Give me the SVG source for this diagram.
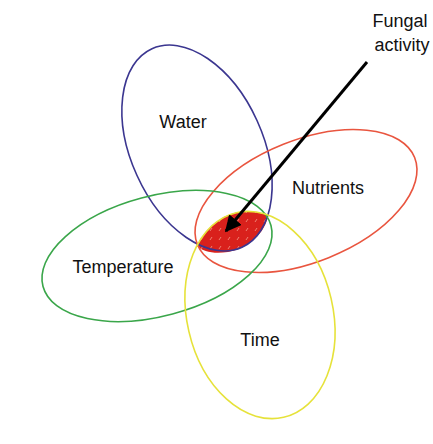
<svg xmlns="http://www.w3.org/2000/svg" width="433" height="444" viewBox="0 0 433 444">
<style>
.e{fill:none;stroke-width:1.6}
.t{font-family:"Liberation Sans","Open Sans",sans-serif;font-size:18px;fill:#111;text-anchor:middle}
</style>
<defs>
<pattern id="dots" width="9" height="9" patternUnits="userSpaceOnUse">
<rect width="9" height="9" fill="#d9211c"/>
<path d="M3 6 L5 3" stroke="#f08a7a" stroke-width="0.9"/>
</pattern>
<marker id="ah" viewBox="0 0 10 10" refX="9" refY="5" markerWidth="5.5" markerHeight="5.5" orient="auto">
<path d="M0 0 L10 5 L0 10 Z" fill="#000"/>
</marker>
</defs>
<rect width="433" height="444" fill="#fff"/>
<g id="overlap">
<path d="M197,246 C203,232 220,214 240,212 C252,211 262,212 268,216 C265,232 250,248 228,252 C214,254 203,252 197,246 Z" fill="url(#dots)"/>
</g>
<g id="water">
<ellipse class="e" cx="197" cy="148" rx="66" ry="109" transform="rotate(-24.4 197 148)" stroke="#3b3690"/>
<text class="t" x="183" y="128">Water</text>
</g>
<g id="nutrients">
<ellipse class="e" cx="306" cy="201" rx="117" ry="61" transform="rotate(-21.8 306 201)" stroke="#e9553f"/>
<text class="t" x="328" y="194">Nutrients</text>
</g>
<g id="temperature">
<ellipse class="e" cx="157" cy="256" rx="118" ry="60" transform="rotate(-15 157 256)" stroke="#3aa64a"/>
<text class="t" x="123" y="273">Temperature</text>
</g>
<g id="time">
<ellipse class="e" cx="260" cy="315" rx="73" ry="105" transform="rotate(-13 260 315)" stroke="#e6e23a"/>
<text class="t" x="260" y="346">Time</text>
</g>
<g id="fungal">
<text class="t" x="400" y="27">Fungal</text>
<text class="t" x="402" y="51">activity</text>
</g>
<g id="connectors">
<line x1="367" y1="62" x2="226" y2="231" stroke="#000" stroke-width="3" marker-end="url(#ah)"/>
</g>
</svg>
